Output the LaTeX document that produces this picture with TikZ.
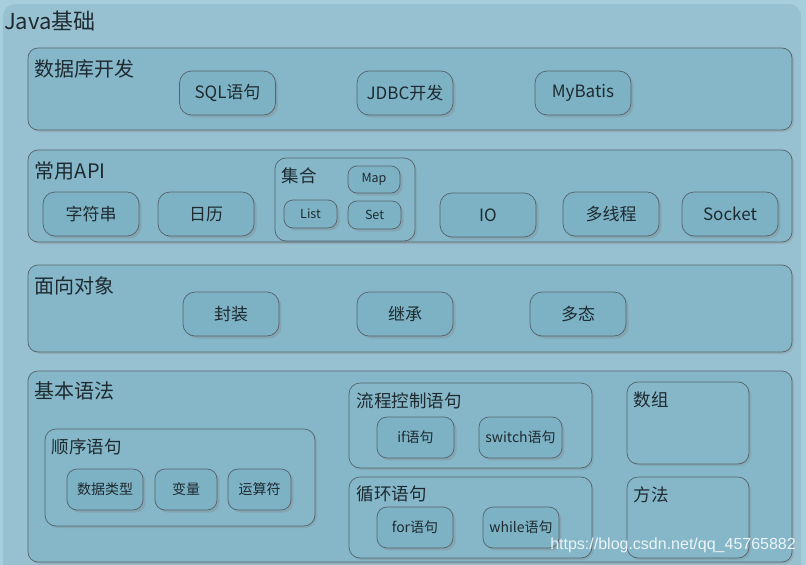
\documentclass[tikz,border=0pt]{standalone}
\usepackage{fontspec}
\setmainfont{Noto Sans CJK SC}
\newfontfamily\markfont{Liberation Sans}
\usepackage{xcolor}
\usetikzlibrary{positioning, shadows}

\definecolor{marginblue}{HTML}{A6CEDD}
\definecolor{outerblue}{HTML}{97C1D1}
\definecolor{sectblue}{HTML}{85B7C9}
\definecolor{boxblue}{HTML}{7DB2C5}
\definecolor{edgegray}{HTML}{56626B}
\definecolor{inkdark}{HTML}{1E2A30}

\begin{document}
\begin{tikzpicture}[
    x=1pt, y=-1pt,
    text=inkdark,
    sect/.style={draw=edgegray, fill=sectblue, rounded corners=10pt, line width=0.7pt,
      drop shadow={opacity=0.25, shadow xshift=2pt, shadow yshift=-2pt}},
    group/.style={sect, rounded corners=11pt},
    box/.style={draw=edgegray, fill=boxblue, rounded corners=12pt, line width=0.7pt,
      minimum width=96pt, minimum height=44pt, inner sep=1pt,
      font=\fontsize{17}{19}\selectfont,
      drop shadow={opacity=0.3, shadow xshift=2.5pt, shadow yshift=-2.5pt}},
    small/.style={box, rounded corners=10pt, minimum height=41pt, font=\fontsize{14}{16}\selectfont},
    tiny/.style={box, rounded corners=9pt, font=\fontsize{12.5}{14}\selectfont},
    title/.style={inner sep=0pt, font=\fontsize{20}{22}\selectfont},
    subtitle/.style={inner sep=0pt, font=\fontsize{17.5}{19}\selectfont}
]
    \useasboundingbox (0,0) rectangle (806,565);
    \fill[marginblue] (0,0) rectangle (806,565);
    \fill[outerblue, rounded corners=12pt] (3,4) rectangle (801,585);
    \node[inner sep=0pt, anchor=north west, font=\fontsize{22}{24}\selectfont] (java) at (4,11) {Java基础};

    % 数据库开发
    \node[sect, minimum width=764pt, minimum height=82pt] (db) at (410,89) {};
    \node[title, below right=12pt and 7pt of db.north west] {数据库开发};
    \node[box] (sql) at (227.5,93) {SQL语句};
    \node[box] (jdbc) at (405,93) {JDBC开发};
    \node[box] (mybatis) at (583,93) {MyBatis};

    % 常用API
    \node[sect, minimum width=764pt, minimum height=92pt] (api) at (410,196) {};
    \node[title, below right=12pt and 7pt of api.north west] {常用API};
    \node[box] (string) at (91,214) {字符串};
    \node[box] (calendar) at (206,214) {日历};
    \node[group, minimum width=140pt, minimum height=83pt] (coll) at (345,199.5) {};
    \node[subtitle, below right=10pt and 7pt of coll.north west] {集合};
    \node[tiny, minimum width=52pt, minimum height=27pt] (map) at (374,179.5) {Map};
    \node[tiny, minimum width=53pt, minimum height=28pt] (list) at (310.5,214) {List};
    \node[tiny, minimum width=53pt, minimum height=28pt] (set) at (374.5,215) {Set};
    \node[box] (io) at (488,215) {IO};
    \node[box] (thread) at (611,214) {多线程};
    \node[box] (socket) at (730,214) {Socket};

    % 面向对象
    \node[sect, minimum width=764pt, minimum height=87pt] (oop) at (410,308.5) {};
    \node[title, below right=12pt and 7pt of oop.north west] {面向对象};
    \node[box] (encap) at (231,314) {封装};
    \node[box] (inherit) at (405,314) {继承};
    \node[box] (poly) at (578,314) {多态};

    % 基本语法
    \node[sect, minimum width=764pt, minimum height=191pt] (basic) at (410,466.5) {};
    \node[title, below right=11pt and 7pt of basic.north west] {基本语法};

    \node[group, minimum width=270pt, minimum height=97pt] (seq) at (180,477.5) {};
    \node[subtitle, below right=10pt and 7pt of seq.north west] {顺序语句};
    \node[small, minimum width=76pt] (dtype) at (105,489.5) {数据类型};
    \node[small, minimum width=62pt] (var) at (186,489.5) {变量};
    \node[small, minimum width=63pt] (oper) at (259.5,489.5) {运算符};

    \node[group, minimum width=243pt, minimum height=85pt] (flow) at (470.5,425.5) {};
    \node[subtitle, below right=10pt and 8pt of flow.north west] {流程控制语句};
    \node[small, minimum width=77pt] (ifst) at (415.5,437.5) {if语句};
    \node[small, minimum width=83pt] (switchst) at (520.5,437.5) {switch语句};

    \node[group, minimum width=243pt, minimum height=81pt] (loop) at (470.5,517.5) {};
    \node[subtitle, below right=9pt and 8pt of loop.north west] {循环语句};
    \node[small, minimum width=76pt] (forst) at (415,527.5) {for语句};
    \node[small, minimum width=76pt] (whilest) at (521,527.5) {while语句};

    \node[group, minimum width=122pt, minimum height=82pt] (array) at (688,423) {};
    \node[subtitle, below right=10pt and 7pt of array.north west] {数组};
    \node[group, minimum width=122pt, minimum height=81pt] (method) at (688,517.5) {};
    \node[subtitle, below right=10pt and 7pt of method.north west] {方法};

    \node[anchor=east, inner sep=0pt, text=white, opacity=0.85, font=\markfont\fontsize{16}{18}\selectfont] (mark) at (796,545) {https://blog.csdn.net/qq\_45765882};
\end{tikzpicture}
\end{document}
